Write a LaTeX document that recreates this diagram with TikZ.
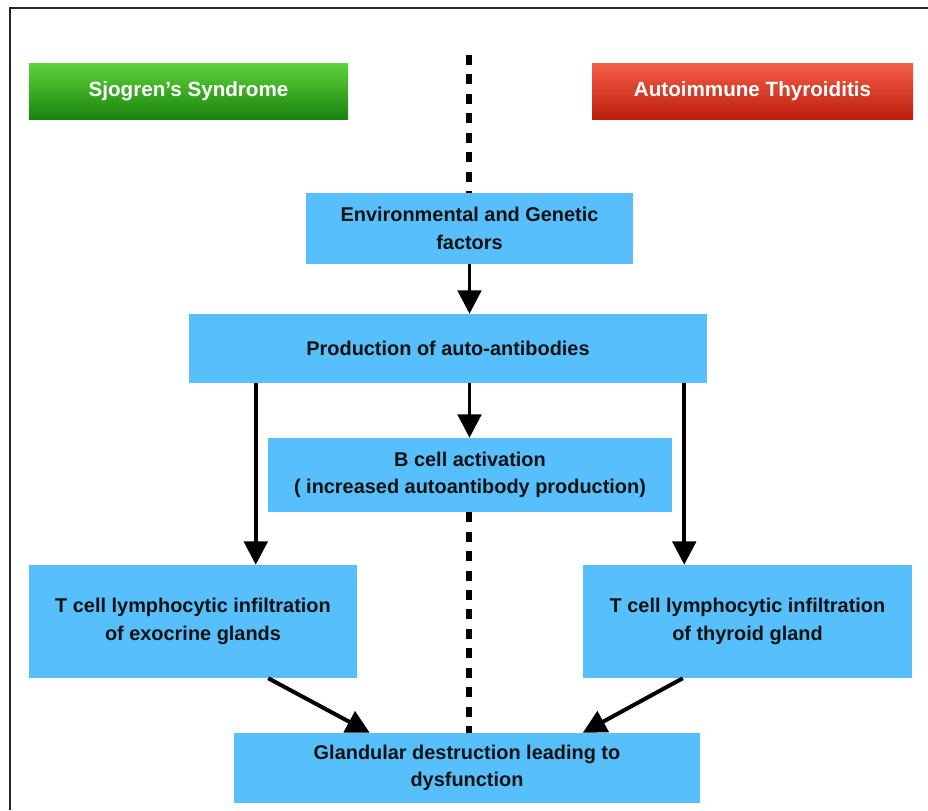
\documentclass[tikz,border=0pt]{standalone}
\usepackage{fontspec}
\setmainfont{Liberation Sans}
\usetikzlibrary{arrows.meta}

\definecolor{boxblue}{RGB}{86,191,252}
\definecolor{greentop}{RGB}{94,210,60}
\definecolor{greenbot}{RGB}{26,132,14}
\definecolor{redtop}{RGB}{244,94,72}
\definecolor{redbot}{RGB}{188,30,14}
\definecolor{inktext}{RGB}{18,18,18}

\begin{document}
\begin{tikzpicture}[x=0.03cm, y=-0.03cm, >={Triangle[length=0.7cm,width=0.7cm]}, every node/.style={font=\fontsize{17}{23.5}\selectfont\bfseries}]
    \tikzstyle{stepbox}=[fill=boxblue, text=inktext, align=center, inner sep=0pt]
    \tikzstyle{headbox}=[text=white, align=center, inner sep=0pt, minimum height=1.68cm, font=\fontsize{17.6}{23}\selectfont\bfseries]
    \tikzstyle{flow}=[->, line width=3.4pt, black]
    \tikzstyle{divider}=[line width=4.3pt, dash pattern=on 8.5pt off 8.1pt, black]

    \useasboundingbox (0,0) rectangle (928,810);
    \draw[line width=1.7pt, black!85] (10,810) -- (10,8) -- (928,8);

    \node[headbox, top color=greentop, bottom color=greenbot, minimum width=9.57cm] (sjogren) at (188.5,91) {Sjogren’s Syndrome};
    \node[headbox, top color=redtop, bottom color=redbot, minimum width=9.63cm] (thyroid) at (752.5,91) {Autoimmune Thyroiditis};

    \node[stepbox, minimum width=9.81cm, minimum height=2.13cm] (envgen) at (469.5,228.5) {Environmental and Genetic\\factors};
    \node[stepbox, minimum width=15.54cm, minimum height=2.07cm] (autoab) at (448,348.5) {Production of auto-antibodies};
    \node[stepbox, minimum width=12.12cm, minimum height=2.22cm] (bcell) at (470,475) {B cell activation\\( increased autoantibody production)};
    \node[stepbox, minimum width=9.84cm, minimum height=3.39cm] (tcellL) at (193,621.5) {T cell lymphocytic infiltration\\of exocrine glands};
    \node[stepbox, minimum width=9.87cm, minimum height=3.39cm] (tcellR) at (747.5,621.5) {T cell lymphocytic infiltration\\of thyroid gland};
    \node[stepbox, minimum width=13.98cm, minimum height=2.10cm] (glands) at (467,768) {Glandular destruction leading to\\dysfunction};

    % dividing line, broken by the boxes
    \coordinate (divtop) at (469,55);
    \draw[divider] (divtop) -- (divtop |- envgen.north);
    \draw[divider] (divtop |- bcell.south) -- (divtop |- glands.north);

    \draw[flow] (envgen.south) -- (envgen.south |- autoab.north);
    \draw[flow] (envgen.south |- autoab.south) -- (envgen.south |- bcell.north);
    \draw[flow] ([xshift=2.01cm]autoab.south west) -- ([xshift=2.01cm]autoab.south west |- tcellL.north);
    \draw[flow] ([xshift=-0.69cm]autoab.south east) -- ([xshift=-0.69cm]autoab.south east |- tcellR.north);
    \draw[flow] ([xshift=-2.67cm]tcellL.south east) -- ([xshift=4.08cm]glands.north west);
    \draw[flow] ([xshift=3.0cm]tcellR.south west) -- ([xshift=10.47cm]glands.north west);
\end{tikzpicture}
\end{document}
